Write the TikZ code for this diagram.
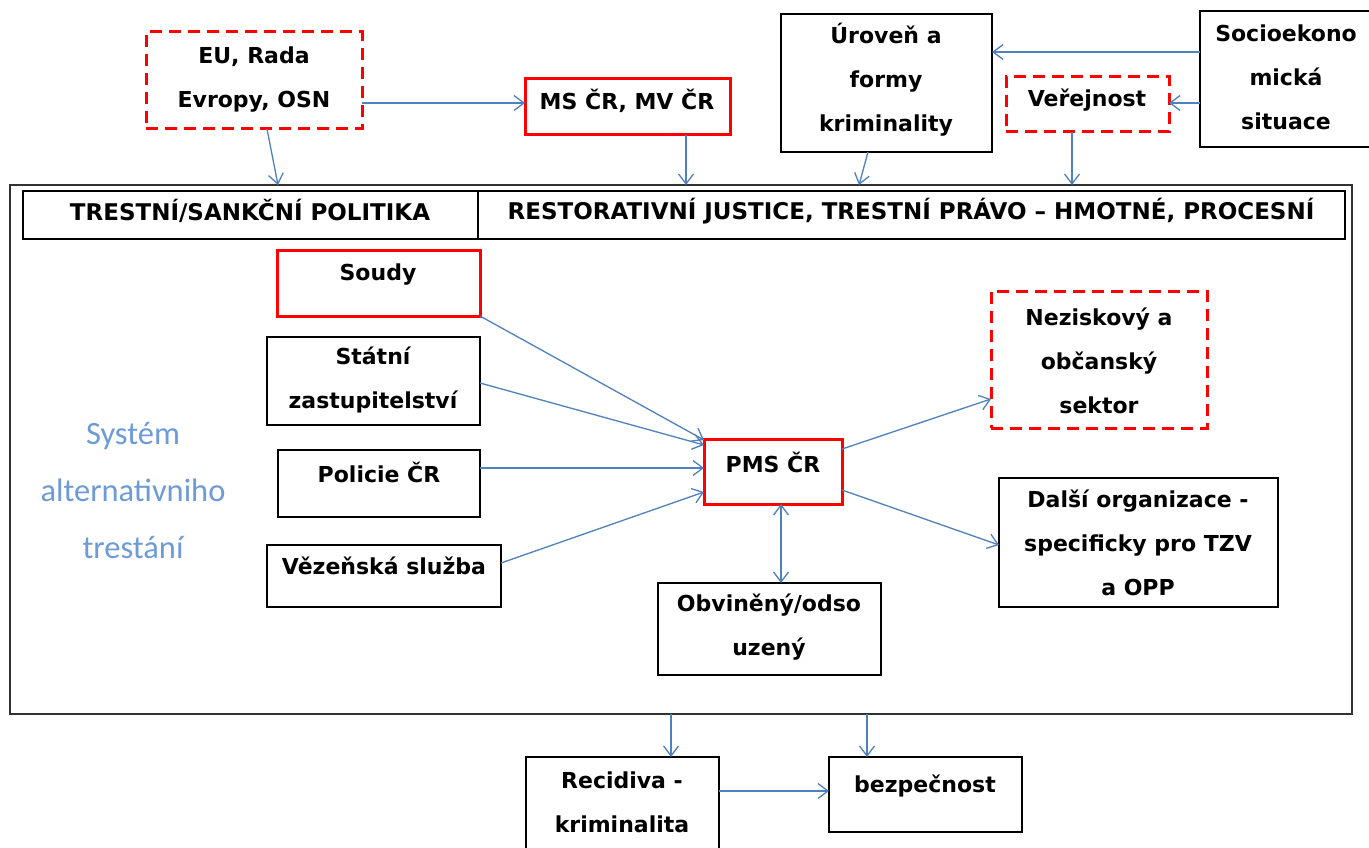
\documentclass[tikz,border=0pt]{standalone}
\usepackage{fontspec}
\setmainfont{DejaVu Sans}
\newfontfamily\carl{Carlito}
\usetikzlibrary{arrows.meta}
\definecolor{abl}{RGB}{79,129,189}
\definecolor{lbl}{RGB}{110,155,215}
\definecolor{rd}{RGB}{255,0,0}
\definecolor{dg}{RGB}{50,50,50}
\tikzset{
  bx/.style={draw=black, line width=1.8pt, inner sep=0pt, outer sep=0pt},
  rbx/.style={draw=rd, line width=3pt, inner sep=0pt, outer sep=0pt},
  dbx/.style={draw=rd, line width=3pt, dash pattern=on 12pt off 7pt, inner sep=0pt, outer sep=0pt},
  txt/.style={font=\bfseries\fontsize{22}{44}\selectfont, align=center, inner sep=0pt},
  htxt/.style={font=\bfseries\fontsize{23}{44}\selectfont, align=center, inner sep=0pt},
  arr/.style={draw=abl, line width=1.3pt, -{Straight Barb[length=10pt,width=15pt]}},
  darr/.style={draw=abl, line width=1.3pt, {Straight Barb[length=10pt,width=15pt]}-{Straight Barb[length=10pt,width=15pt]}}
}
\begin{document}
\begin{tikzpicture}[x=1pt,y=-1pt]
\useasboundingbox (0,0) rectangle (1369,848);
\fill[white] (0,0) rectangle (1369,848);
% outer frame and header
\node[draw=dg, line width=2pt, inner sep=0pt, outer sep=0pt, minimum width=1342pt, minimum height=529pt] (outer) at (681,449.5) {};
\node[bx, line width=1.5pt, minimum width=455pt, minimum height=48pt] (hl) at (250.5,215) {};
\node[bx, line width=1.5pt, minimum width=867pt, minimum height=48pt] (hr) at (911.5,215) {};
\node[htxt] (hlt) at (250,211) {TRESTNÍ/SANKČNÍ POLITIKA};
\node[htxt] (hrt) at (911,211) {RESTORATIVNÍ JUSTICE, TRESTNÍ PRÁVO – HMOTNÉ, PROCESNÍ};
% top boxes
\node[dbx, minimum width=216pt, minimum height=97pt] (eu) at (254,80.5) {};
\node[txt] (eut) at (254,80) {EU, Rada\\Evropy, OSN};
\node[rbx, minimum width=205pt, minimum height=56pt] (ms) at (627.5,107) {};
\node[txt] (mst) at (627,101) {MS ČR, MV ČR};
\node[bx, minimum width=211pt, minimum height=138pt] (urov) at (886.5,83) {};
\node[txt] (urovt) at (886,80) {Úroveň a\\formy\\kriminality};
\node[dbx, minimum width=163pt, minimum height=55pt] (ver) at (1087.5,104.5) {};
\node[txt] (vert) at (1087,100) {Veřejnost};
\node[bx, minimum width=175pt, minimum height=136pt] (socio) at (1287.5,79) {};
\node[txt] (sociot) at (1286,77) {Socioekono\\mická\\situace};
% inner boxes
\node[rbx, minimum width=203pt, minimum height=66pt] (soudy) at (378.5,283) {};
\node[txt] (soudyt) at (378,275) {Soudy};
\node[bx, minimum width=213pt, minimum height=88pt] (statni) at (373.5,381) {};
\node[txt] (statnit) at (373,380) {Státní\\zastupitelství};
\node[bx, minimum width=202pt, minimum height=67pt] (policie) at (379,483.5) {};
\node[txt] (policiet) at (379,472) {Policie ČR};
\node[bx, minimum width=234pt, minimum height=62pt] (vez) at (384,576) {};
\node[txt] (vezt) at (384,566) {Vězeňská služba};
\node[rbx, minimum width=138pt, minimum height=65pt] (pms) at (773,471.5) {};
\node[txt] (pmst) at (773,462) {PMS ČR};
\node[dbx, minimum width=216pt, minimum height=137pt] (nez) at (1099,359.5) {};
\node[txt] (nezt) at (1099,361) {Neziskový a\\občanský\\sektor};
\node[bx, minimum width=279pt, minimum height=129pt] (dalsi) at (1138.5,542.5) {};
\node[txt] (dalsit) at (1138,543) {Další organizace -\\specificky pro TZV\\a OPP};
\node[bx, minimum width=223pt, minimum height=92pt] (obv) at (769.5,629) {};
\node[txt] (obvt) at (769,627) {Obviněný/odso\\uzený};
\node[font=\carl\fontsize{32.5}{57}\selectfont, text=lbl, align=center, inner sep=0pt] (sys) at (133,491) {Systém\\alternativniho\\trestání};
% bottom boxes
\node[bx, minimum width=193pt, minimum height=103pt] (recid) at (622.5,808.5) {};
\node[txt] (recidt) at (622,802) {Recidiva -\\kriminalita};
\node[bx, minimum width=193pt, minimum height=75pt] (bezp) at (925.5,794.5) {};
\node[txt] (bezpt) at (925,786) {bezpečnost};
% connectors
\draw[arr] (eu.south -| 267,0) -- (outer.north -| 278,0);
\draw[arr] (eu.east |- 0,103) -- (ms.west |- 0,103);
\draw[arr] (ms.south -| 686,0) -- (outer.north -| 686,0);
\draw[arr] (urov.south -| 868,0) -- (outer.north -| 859,0);
\draw[arr] (ver.south -| 1072,0) -- (outer.north -| 1072,0);
\draw[arr] (socio.west |- 0,52) -- (urov.east |- 0,52);
\draw[arr] (socio.west |- 0,103) -- (ver.east |- 0,103);
\draw[arr] (soudy.south east) -- (pms.west |- 0,440);
\draw[arr] (statni.east |- 0,383) -- (pms.west |- 0,445);
\draw[arr] (policie.east |- 0,468) -- (pms.west |- 0,468);
\draw[arr] (vez.east |- 0,563) -- (pms.west |- 0,492);
\draw[arr] (pms.east |- 0,449) -- (nez.west |- 0,399);
\draw[arr] (pms.east |- 0,490) -- (dalsi.west |- 0,545);
\draw[darr] (pms.south -| 781,0) -- (obv.north -| 781,0);
\draw[arr] (outer.south -| 671,0) -- (recid.north -| 671,0);
\draw[arr] (outer.south -| 867,0) -- (bezp.north -| 867,0);
\draw[arr] (recid.east |- 0,791) -- (bezp.west |- 0,791);
\end{tikzpicture}
\end{document}
